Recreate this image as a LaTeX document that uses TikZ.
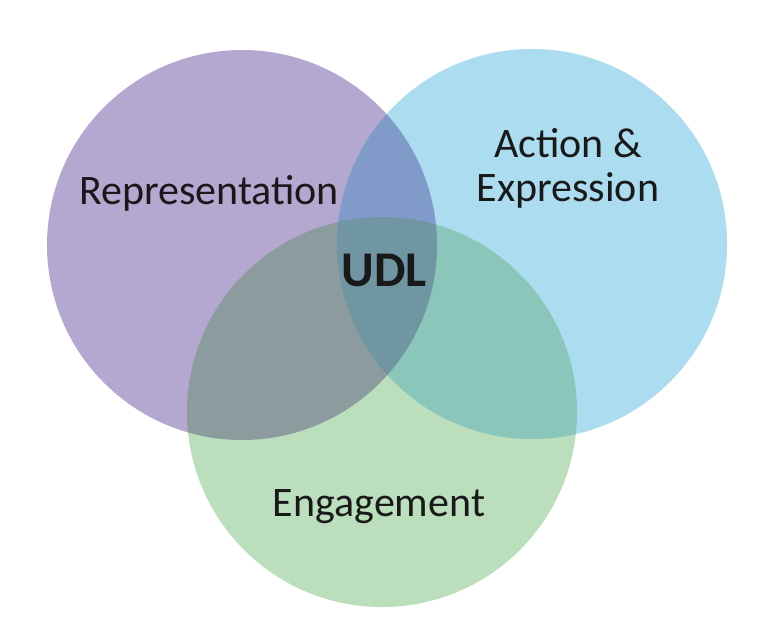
\documentclass[tikz,border=0pt]{standalone}
\usepackage{fontspec}
\setmainfont{Carlito}
\begin{document}
\begin{tikzpicture}[x=1pt,y=-1pt,
  circ/.style={circle,minimum size=390pt,inner sep=0pt},
  lab/.style={font=\fontsize{42}{44}\selectfont,align=center,text=black!90}]
\useasboundingbox (0,0) rectangle (768,638);
\definecolor{cp}{RGB}{181,168,208}
\definecolor{cb}{RGB}{160,216,238}
\definecolor{cg}{RGB}{178,218,180}
\begin{scope}[blend group=multiply]
\fill[white] (0,0) rectangle (768,638);
\node[circ,fill=cp] (rep) at (242,245) {};
\node[circ,fill=cb,fill opacity=0.85] (act) at (532,244) {};
\node[circ,fill=cg,fill opacity=0.85] (eng) at (382,412) {};
\end{scope}
\node[circ,fill=cb,fill opacity=0.15] at (532,244) {};
\node[circ,fill=cg,fill opacity=0.15] at (382,412) {};
\node[lab] (t1) at (209,193) {Representation};
\node[lab] (t2) at (568,168) {Action \&\\Expression};
\node[lab] (t3) at (379,507) {Engagement};
\node[lab,font=\fontsize{50}{52}\selectfont\bfseries] (t4) at (384,270) {UDL};
\end{tikzpicture}
\end{document}
